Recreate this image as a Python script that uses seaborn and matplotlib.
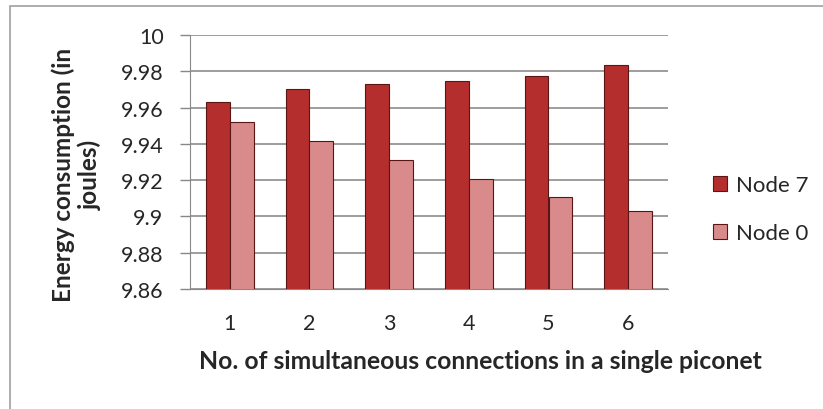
import pandas as pd
import matplotlib.pyplot as plt
import seaborn as sns
from matplotlib.patches import Rectangle

# datos
connections = ["1", "2", "3", "4", "5", "6"]
node7 = [9.963, 9.970, 9.973, 9.9746, 9.9772, 9.9833]
node0 = [9.952, 9.9414, 9.931, 9.9208, 9.9105, 9.9028]
series_names = ["Node 7", "Node 0"]
yticks = [9.86, 9.88, 9.9, 9.92, 9.94, 9.96, 9.98, 10]
ytick_labels = ["9.86", "9.88", "9.9", "9.92", "9.94", "9.96", "9.98", "10"]

df = pd.DataFrame({
    "conn": connections * 2,
    "value": node7 + node0,
    "node": [series_names[0]] * 6 + [series_names[1]] * 6,
})

sns.set_style("white")
plt.rcParams["font.family"] = ["Lato", "DejaVu Sans"]

fig = plt.figure(figsize=(8.23, 4.10), dpi=100)
# area del grafico en pixeles: x 190-668, y 36-290
ax = fig.add_axes([190 / 823, 1 - 290 / 410, 478 / 823, 254 / 410])

palette = {"Node 7": "#B52E2E", "Node 0": "#D98A8A"}
sns.barplot(data=df, x="conn", y="value", hue="node", palette=palette,
            saturation=1, width=0.6, edgecolor="#5A1616", linewidth=0.8,
            ax=ax, zorder=3)

ax.set_ylim(9.86, 10)
ax.set_yticks(yticks)
ax.set_yticklabels(ytick_labels, fontsize=15.5)
ax.tick_params(axis="x", labelsize=15.5, length=0, pad=17)
ax.tick_params(axis="y", length=7, color="#888888", width=1, pad=12, left=True)
ax.grid(axis="y", color="#8C8C8C", linewidth=1.2, zorder=0)
ax.set_axisbelow(True)
for s in ["top", "right"]:
    ax.spines[s].set_visible(False)
ax.spines["left"].set_color("#888888")
ax.spines["bottom"].set_color("#888888")

ax.set_xlabel("No. of simultaneous connections in a single piconet",
              fontsize=17.8, fontweight="bold")
ax.xaxis.set_label_coords((480 - 190) / 478, (290 - 350) / 254)
ax.set_ylabel("Energy consumption (in\njoules)", fontsize=17.5,
              fontweight="bold", linespacing=1.15)
ax.yaxis.set_label_coords((102 - 190) / 478, (290 - 175) / 254)

ax.legend(title=None, frameon=False, fontsize=16, loc="center left",
          bbox_to_anchor=(1 + 36 / 478, 1 - (210 - 36) / 254),
          handlelength=0.65, handleheight=0.65, labelspacing=1.25,
          handletextpad=0.4, borderaxespad=0)

# marco exterior
fig.patches.append(Rectangle((10 / 823, -0.1), 1.0, 1.1 - 7 / 410,
                             transform=fig.transFigure, fill=False,
                             edgecolor="#A0A0A0", linewidth=1.2))

fig.savefig("out.png", dpi=100)
